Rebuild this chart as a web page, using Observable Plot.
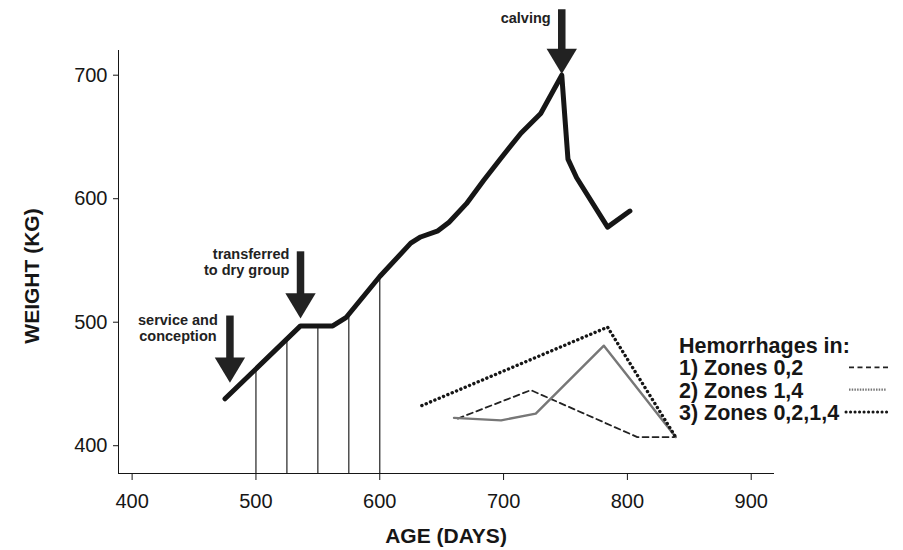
<!DOCTYPE html>
<html><head><meta charset="utf-8">
<script src="https://cdn.jsdelivr.net/npm/d3@7"></script>
<script src="https://cdn.jsdelivr.net/npm/@observablehq/plot@0.6"></script>
<style>
body{margin:0;background:#fff;}
#wrap{position:relative;width:903px;height:550px;font-family:"Liberation Sans",Arial,Helvetica,sans-serif;}
#legend{position:absolute;left:0;top:0;pointer-events:none;}
</style></head><body><div id="wrap"></div>
<script>
// ---- data ----
// main weight curve
const ageDays  = [475, 536, 562, 573, 600, 625, 633, 647, 656, 670, 684, 698, 714, 730, 747, 752, 759, 784, 802];
const weightKg = [438, 497, 497, 504, 537, 564, 569, 574, 581, 596, 615, 633, 653, 669, 700, 632, 617, 577, 590];
// vertical sampling lines
const ruleDays = [500, 525, 550, 575, 600];
const ruleTops = [462, 486, 497, 507, 537];
// hemorrhage series
const zone02Days = [663, 722, 808, 839];
const zone02Kg   = [422, 445, 407, 407];
const zone14Days = [660, 698, 726, 781, 839];
const zone14Kg   = [422.5, 420.5, 426, 481, 407];
const zone0214Days = [634, 784, 839];
const zone0214Kg   = [432.5, 496, 407];
// event arrows
const arrowDays  = [479, 536, 747];
const arrowTipKg = [451, 503, 701];
const arrowTopKg = [505, 557, 753];
// annotation labels
const noteTexts   = ["service and\nconception", "transferred\nto dry group", "calving"];
const noteDays    = [437, 527, 738];
const noteKg      = [495.5, 548.5, 746.5];
const noteAnchors = ["middle", "end", "end"];
// axes
const xTicks = [400, 500, 600, 700, 800, 900];
const yTicks = [400, 500, 600, 700];
const xDomain = [389, 918];
const yDomain = [377.5, 720];
const xTitle = "AGE (DAYS)";
const yTitle = "WEIGHT (KG)";
// legend
const legendTitle = "Hemorrhages in:";
const legendLabels = ["1) Zones 0,2", "2) Zones 1,4", "3) Zones 0,2,1,4"];

// ---- tables ----
const curve = ageDays.map((d, i) => ({day: d, kg: weightKg[i]}));
const rules = ruleDays.map((d, i) => ({day: d, top: ruleTops[i]}));
const z02 = zone02Days.map((d, i) => ({day: d, kg: zone02Kg[i]}));
const z14 = zone14Days.map((d, i) => ({day: d, kg: zone14Kg[i]}));
const z0214 = zone0214Days.map((d, i) => ({day: d, kg: zone0214Kg[i]}));
const arrows = arrowDays.map((d, i) => ({day: d, tip: arrowTipKg[i], base: arrowTipKg[i] + 12, top: arrowTopKg[i]}));
const notes = noteTexts.map((t, i) => ({text: t, day: noteDays[i], kg: noteKg[i], anchor: noteAnchors[i]}));

const downTriangle = {
  draw(context, size) {
    const r = Math.sqrt(size / Math.PI);
    const hw = 1.38 * r, h = 2.3 * r;
    context.moveTo(0, 0);
    context.lineTo(-hw, -h);
    context.lineTo(hw, -h);
    context.closePath();
  }
};

const font = '"Liberation Sans", Arial, Helvetica, sans-serif';
const ink = "#161616";
const noteStyle = {x: "day", y: "kg", text: "text", lineAnchor: "middle",
  fontSize: 14.5, fontWeight: "bold", lineHeight: 1.1, fill: "#222"};

const chart = Plot.plot({
  width: 903, height: 550,
  marginLeft: 118, marginRight: 130, marginTop: 50, marginBottom: 77,
  style: {fontFamily: font, fontSize: "20px", color: ink, background: "white", overflow: "visible"},
  x: {domain: xDomain, ticks: xTicks, tickSize: 7, tickPadding: 13, label: null, line: true, tickFormat: d => String(d)},
  y: {domain: yDomain, ticks: yTicks, tickSize: 5, tickPadding: 6, label: null, line: true, tickFormat: d => String(d)},
  marks: [
    Plot.ruleX(rules, {x: "day", y1: yDomain[0], y2: "top", stroke: "#333", strokeWidth: 1.3}),
    Plot.line(z02, {x: "day", y: "kg", stroke: "#222", strokeWidth: 1.8, strokeDasharray: "6,4"}),
    Plot.line(z14, {x: "day", y: "kg", stroke: "#777", strokeWidth: 2.4}),
    Plot.line(z0214, {x: "day", y: "kg", stroke: ink, strokeWidth: 3.4, strokeDasharray: "0.1,4.6", strokeLinecap: "round"}),
    Plot.line(curve, {x: "day", y: "kg", stroke: ink, strokeWidth: 5, strokeLinejoin: "round"}),
    Plot.ruleX(arrows, {x: "day", y1: "base", y2: "top", stroke: "#222", strokeWidth: 7.5}),
    Plot.dot(arrows, {x: "day", y: "tip", symbol: downTriangle, r: 11, fill: "#222", stroke: "none"}),
    Plot.text(notes.filter(n => n.anchor === "middle"), {...noteStyle, textAnchor: "middle"}),
    Plot.text(notes.filter(n => n.anchor === "end"), {...noteStyle, textAnchor: "end"}),
    Plot.text([xTitle], {text: d => d, frameAnchor: "bottom", dy: 63, lineAnchor: "middle",
      fontSize: 21, fontWeight: "bold", fill: ink})
  ]
});
const wrap = document.getElementById("wrap");
wrap.appendChild(chart);

// ---- overlay: y title and legend ----
const lg = d3.select(wrap).append("svg").attr("id", "legend").attr("width", 903).attr("height", 550);
lg.append("text").attr("transform", "translate(31,276) rotate(-90)")
  .attr("text-anchor", "middle").attr("dominant-baseline", "central").text(yTitle)
  .attr("font-family", font).attr("font-weight", "bold").attr("font-size", 21).attr("fill", ink);
const lgX = 679, lgY0 = 353, lgStep = 22.3;
lg.append("text").attr("x", lgX).attr("y", lgY0).text(legendTitle)
  .attr("font-family", font).attr("font-weight", "bold").attr("font-size", 21.5).attr("fill", ink);
const sampleStyles = [
  {x1: 849, x2: 888, stroke: "#222", width: 1.8, dash: "5,3.5", cap: "butt"},
  {x1: 849, x2: 886, stroke: "#777", width: 2.2, dash: "1.5,1.2", cap: "butt"},
  {x1: 846, x2: 888, stroke: ink, width: 3, dash: "0.1,4.4", cap: "round"}
];
legendLabels.forEach((t, i) => {
  const y = lgY0 + lgStep * (i + 1);
  lg.append("text").attr("x", lgX).attr("y", y).text(t)
    .attr("font-family", font).attr("font-weight", "bold").attr("font-size", 21.5).attr("fill", ink);
  const s = sampleStyles[i];
  lg.append("line").attr("x1", s.x1).attr("x2", s.x2).attr("y1", y - 8).attr("y2", y - 8)
    .attr("stroke", s.stroke).attr("stroke-width", s.width).attr("stroke-dasharray", s.dash)
    .attr("stroke-linecap", s.cap);
});
</script></body></html>
